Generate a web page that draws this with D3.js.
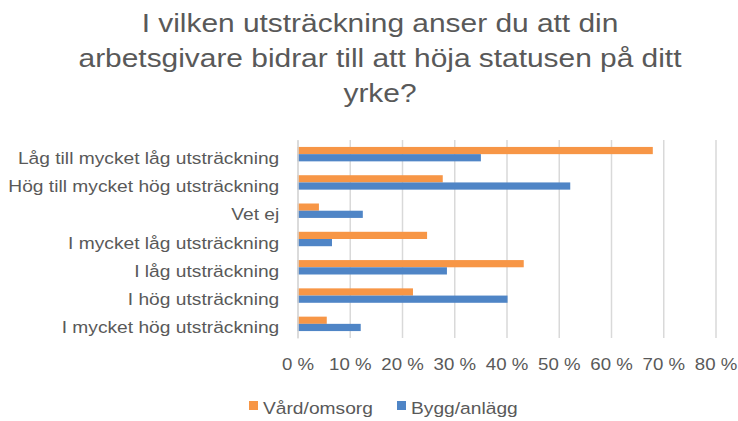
<!DOCTYPE html>
<html><head><meta charset="utf-8">
<script src="https://cdn.jsdelivr.net/npm/d3@7"></script>
<style>body{margin:0;background:#fff}svg{display:block}text{font-family:"Liberation Sans",Arial,sans-serif;fill:#595959}</style>
</head><body>
<script>
const categories = ["Låg till mycket låg utsträckning","Hög till mycket hög utsträckning","Vet ej","I mycket låg utsträckning","I låg utsträckning","I hög utsträckning","I mycket hög utsträckning"];
const seriesNames = ["Vård/omsorg","Bygg/anlägg"];
const vardOmsorg = [68.0, 27.8, 4.1, 24.8, 43.3, 22.1, 5.6];
const byggAnlagg = [35.1, 52.2, 12.5, 6.6, 28.6, 40.2, 12.1];
const xTicks = [0,10,20,30,40,50,60,70,80];
const titleLines = ["I vilken utsträckning anser du att din","arbetsgivare bidrar till att höja statusen på ditt","yrke?"];
const colors = ["#F79646","#4F85C6"];

const W=738,H=421, SX=1.13;
const m={left:297.5,right:715.5,top:140,bottom:338};
const svg=d3.select("body").append("svg").attr("width",W).attr("height",H);

const x=d3.scaleLinear().domain([0,80]).range([m.left,m.right]);
const y=d3.scaleBand().domain(categories).range([m.top,m.bottom]).paddingInner(0.49).paddingOuter(0.245);
const ys=d3.scaleBand().domain(seriesNames).range([0,y.bandwidth()]);

// title
svg.append("g").selectAll("text").data(titleLines).join("text")
 .attr("transform",(d,i)=>`translate(380,${32+i*35})scale(1.15,1)`)
 .attr("text-anchor","middle")
 .style("font-size","26px").text(d=>d);

// grid + x ticks
const gx=svg.append("g").attr("transform",`translate(0,${m.bottom})`)
 .call(d3.axisBottom(x).tickValues(xTicks).tickSize(-(m.bottom-m.top)).tickFormat(d=>d+" %"));
gx.select(".domain").remove();
gx.selectAll("line").attr("stroke","#d9d9d9").attr("stroke-width",1.5);
gx.selectAll("text").attr("dy",0).attr("y",0)
 .attr("transform",`translate(0,32)scale(${SX},1)`)
 .style("font-size","16.5px").style("fill","#595959");

// bars
const data=[vardOmsorg,byggAnlagg];
data.forEach((vals,si)=>{
 svg.append("g").selectAll("rect").data(vals).join("rect")
  .attr("x",x(0)).attr("y",(d,i)=>y(categories[i])+ys(seriesNames[si]))
  .attr("width",d=>x(d)-x(0)).attr("height",ys.bandwidth())
  .attr("fill",colors[si]);
});

// category axis
const gy=svg.append("g").attr("transform",`translate(${m.left},0)`)
 .call(d3.axisLeft(y).tickSize(0));
gy.select(".domain").attr("stroke","#d9d9d9").attr("stroke-width",1.5);
gy.selectAll("text").attr("x",0).attr("dy",0)
 .attr("transform",`translate(-18.2,9.5)scale(${SX},1)`)
 .style("font-size","17px").style("fill","#595959");

// legend
const lg=svg.append("g");
const lx=[249,397];
seriesNames.forEach((s,i)=>{
 lg.append("rect").attr("x",lx[i]).attr("y",401).attr("width",9).attr("height",9).attr("fill",colors[i]);
 lg.append("text").attr("transform",`translate(${lx[i]+14},414)scale(${SX},1)`).style("font-size","17px").text(s);
});
</script>
</body></html>
